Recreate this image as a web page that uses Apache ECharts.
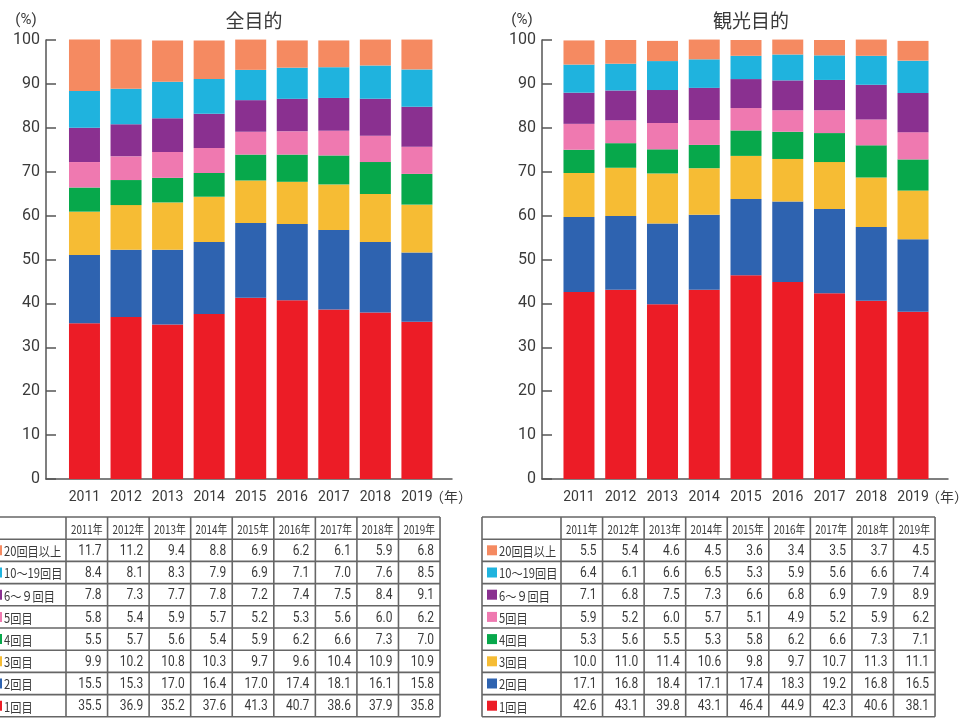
<!DOCTYPE html>
<html>
<head>
<meta charset="utf-8">
<script src="https://cdn.jsdelivr.net/npm/echarts@6/dist/echarts.min.js"></script>
<style>
  html, body { margin: 0; padding: 0; background: #fff; }
  #chart { width: 965px; height: 719px; }
</style>
</head>
<body>
<div id="chart"></div>
<script>
// Survey years
const years = ['2011', '2012', '2013', '2014', '2015', '2016', '2017', '2018', '2019'];

// Visit-count groups, stacked from the bottom up
const groupNames = ['1回目', '2回目', '3回目', '4回目', '5回目', '6～９回目', '10～19回目', '20回目以上'];
const groupColors = ['#EC1C26', '#2E63B0', '#F6BC34', '#07A84B', '#EF79B0', '#8A3090', '#1FB3DE', '#F58A61'];

// 全目的 (%)
const allVisit1 = [35.5, 36.9, 35.2, 37.6, 41.3, 40.7, 38.6, 37.9, 35.8];
const allVisit2 = [15.5, 15.3, 17.0, 16.4, 17.0, 17.4, 18.1, 16.1, 15.8];
const allVisit3 = [9.9, 10.2, 10.8, 10.3, 9.7, 9.6, 10.4, 10.9, 10.9];
const allVisit4 = [5.5, 5.7, 5.6, 5.4, 5.9, 6.2, 6.6, 7.3, 7.0];
const allVisit5 = [5.8, 5.4, 5.9, 5.7, 5.2, 5.3, 5.6, 6.0, 6.2];
const allVisit6to9 = [7.8, 7.3, 7.7, 7.8, 7.2, 7.4, 7.5, 8.4, 9.1];
const allVisit10to19 = [8.4, 8.1, 8.3, 7.9, 6.9, 7.1, 7.0, 7.6, 8.5];
const allVisit20plus = [11.7, 11.2, 9.4, 8.8, 6.9, 6.2, 6.1, 5.9, 6.8];

// 観光目的 (%)
const tourVisit1 = [42.6, 43.1, 39.8, 43.1, 46.4, 44.9, 42.3, 40.6, 38.1];
const tourVisit2 = [17.1, 16.8, 18.4, 17.1, 17.4, 18.3, 19.2, 16.8, 16.5];
const tourVisit3 = [10.0, 11.0, 11.4, 10.6, 9.8, 9.7, 10.7, 11.3, 11.1];
const tourVisit4 = [5.3, 5.6, 5.5, 5.3, 5.8, 6.2, 6.6, 7.3, 7.1];
const tourVisit5 = [5.9, 5.2, 6.0, 5.7, 5.1, 4.9, 5.2, 5.9, 6.2];
const tourVisit6to9 = [7.1, 6.8, 7.5, 7.3, 6.6, 6.8, 6.9, 7.9, 8.9];
const tourVisit10to19 = [6.4, 6.1, 6.6, 6.5, 5.3, 5.9, 5.6, 6.6, 7.4];
const tourVisit20plus = [5.5, 5.4, 4.6, 4.5, 3.6, 3.4, 3.5, 3.7, 4.5];

// Y axis ticks
const yTicks = { min: 0, max: 100, interval: 10 };

const allGroups = [allVisit1, allVisit2, allVisit3, allVisit4, allVisit5, allVisit6to9, allVisit10to19, allVisit20plus];
const tourGroups = [tourVisit1, tourVisit2, tourVisit3, tourVisit4, tourVisit5, tourVisit6to9, tourVisit10to19, tourVisit20plus];

const NUM = "Roboto, 'Noto Sans', sans-serif";
const JP = "'Noto Sans CJK JP', 'Noto Sans', sans-serif";
const TEXT = '#3a3a3a';
const AXIS = '#555';

// frame = axis box; bars = inner band where the categories sit
const panels = [
  { title: '全目的', frameLeft: 46, barsLeft: 63.7, barsWidth: 374, groups: allGroups, tableX: -13 },
  { title: '観光目的', frameLeft: 542, barsLeft: 558.1, barsWidth: 375.8, groups: tourGroups, tableX: 482 }
];
const TOP = 40, HEIGHT = 439, FRAME_W = 406;

const grid = [], xAxis = [], yAxis = [], series = [], title = [], graphic = [];

// condensed text helper for table cells
function narrowText(text, x, y, align, font, sx) {
  return { type: 'text', x, y, scaleX: sx, style: { text, x: 0, y: 0, align, verticalAlign: 'middle', font, fill: TEXT } };
}

panels.forEach((p, pi) => {
  const gFrame = pi * 2, gBars = pi * 2 + 1;
  grid.push({ left: p.frameLeft, top: TOP, width: FRAME_W, height: HEIGHT });
  grid.push({ left: p.barsLeft, top: TOP, width: p.barsWidth, height: HEIGHT });

  title.push({
    text: p.title, left: p.frameLeft + (pi === 0 ? 203 : 204), top: 6, textAlign: 'center',
    textStyle: { fontFamily: JP, fontSize: 19, fontWeight: 'normal', color: TEXT }
  });

  // frame axes
  xAxis.push({
    type: 'value', gridIndex: gFrame, min: 0, max: 1,
    splitLine: { show: false }, axisTick: { show: false }, axisLabel: { show: false },
    axisLine: { show: true, lineStyle: { color: AXIS, width: 1.5 } }
  });
  yAxis.push({
    type: 'value', gridIndex: gFrame, min: yTicks.min, max: yTicks.max, interval: yTicks.interval,
    splitLine: { show: false },
    axisLine: { show: true, lineStyle: { color: AXIS, width: 1.5 } },
    axisTick: { show: true, inside: true, length: 10, lineStyle: { color: AXIS, width: 1.5 } },
    axisLabel: { margin: 6, fontFamily: NUM, fontSize: 16, color: TEXT }
  });

  // bar axes
  xAxis.push({
    type: 'category', gridIndex: gBars, data: years, boundaryGap: true,
    axisLine: { show: false }, axisTick: { show: false },
    axisLabel: { margin: 11, fontFamily: NUM, fontSize: 14, color: TEXT }
  });
  yAxis.push({ type: 'value', gridIndex: gBars, min: yTicks.min, max: yTicks.max, show: false });

  p.groups.forEach((vals, gi) => {
    series.push({
      type: 'bar', name: groupNames[gi], xAxisIndex: gBars, yAxisIndex: gBars,
      stack: 'panel' + pi, barWidth: 31, clip: false,
      itemStyle: { color: groupColors[gi] },
      data: vals
    });
  });

  // axis captions
  graphic.push({ type: 'text', style: { text: '(%)', x: p.frameLeft - 20, y: 20, align: 'center', verticalAlign: 'middle', font: '15px ' + NUM, fill: TEXT } });
  graphic.push({ type: 'text', style: { text: '（年）', x: p.frameLeft + 405, y: 497, align: 'center', verticalAlign: 'middle', font: '14px ' + JP, fill: TEXT } });

  // data table below each panel
  const firstW = 79, colW = 41.56, top = 517, rowH = 22.2, nRows = groupNames.length + 1;
  const x0 = p.tableX, width = firstW + colW * years.length;
  const lineStyle = { stroke: '#666', lineWidth: 1.6 };
  for (let r = 0; r <= nRows; r++) {
    graphic.push({ type: 'line', shape: { x1: x0, y1: top + r * rowH, x2: x0 + width, y2: top + r * rowH }, style: lineStyle });
  }
  const vx = [x0, x0 + firstW];
  years.forEach((_, i) => vx.push(x0 + firstW + colW * (i + 1)));
  vx.forEach(x => graphic.push({ type: 'line', shape: { x1: x, y1: top, x2: x, y2: top + nRows * rowH }, style: lineStyle }));
  years.forEach((y, i) => {
    graphic.push(narrowText(y + '年', x0 + firstW + colW * (i + 0.5), top + rowH / 2 + 1, 'center', '12px ' + JP, 0.82));
  });
  for (let k = 0; k < groupNames.length; k++) {
    const gi = groupNames.length - 1 - k;
    const cy = top + rowH * (k + 1.5);
    graphic.push({ type: 'rect', shape: { x: x0 + 5, y: cy - 5, width: 10, height: 10 }, style: { fill: groupColors[gi] } });
    graphic.push(narrowText(groupNames[gi], x0 + 17, cy + 1, 'left', '13px ' + JP, 0.86));
    p.groups[gi].forEach((v, i) => {
      graphic.push(narrowText(v.toFixed(1), x0 + firstW + colW * (i + 1) - 6, cy + 1, 'right', '15px ' + NUM, 0.8));
    });
  }
});

const chart = echarts.init(document.getElementById('chart'), null, { renderer: 'canvas' });
chart.setOption({
  animation: false,
  backgroundColor: '#fff',
  title, grid, xAxis, yAxis, series, graphic
});
</script>
</body>
</html>
